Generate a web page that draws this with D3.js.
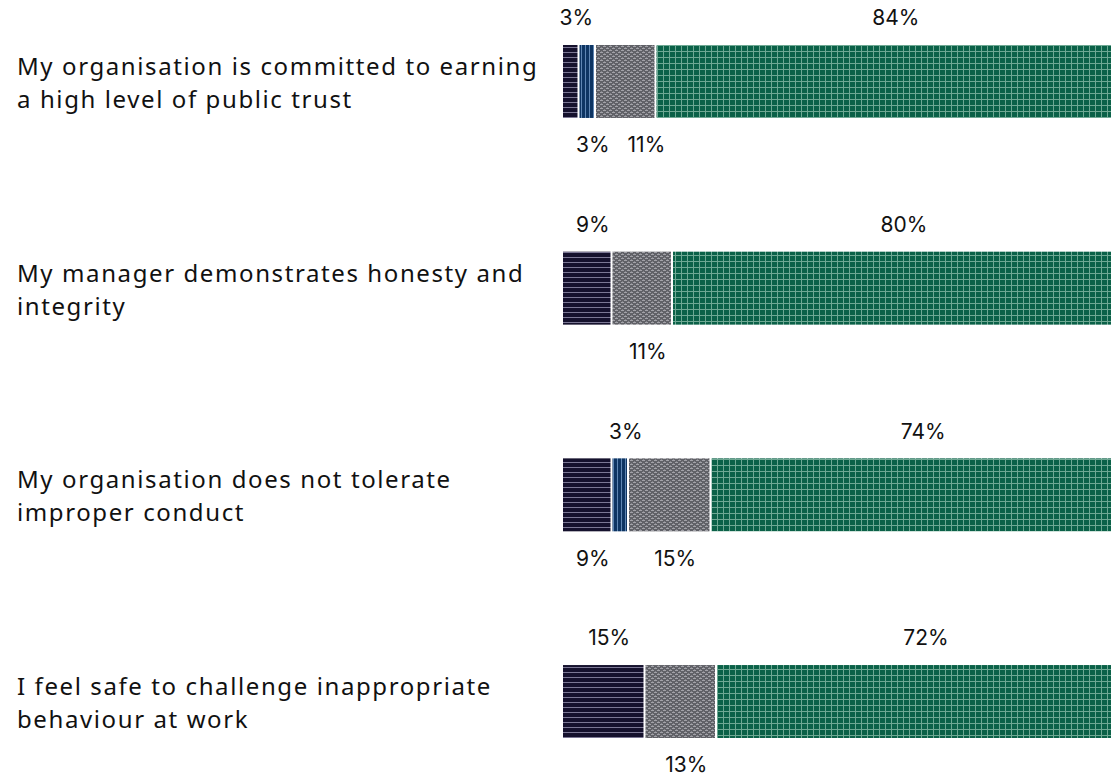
<!DOCTYPE html>
<html>
<head>
<meta charset="utf-8">
<script src="https://cdn.jsdelivr.net/npm/d3@7"></script>
<style>
  html, body { margin: 0; padding: 0; background: #fff; }
  svg { display: block; }
  text { font-family: Inter, "Noto Sans", sans-serif; fill: #111; }
  text.cat { font-family: "Noto Sans", sans-serif; letter-spacing: 1.6px; }
</style>
</head>
<body>
<svg id="chart" width="1111" height="776"></svg>
<script>
// ---- data ----
const categories = [
  ["My organisation is committed to earning", "a high level of public trust"],
  ["My manager demonstrates honesty and", "integrity"],
  ["My organisation does not tolerate", "improper conduct"],
  ["I feel safe to challenge inappropriate", "behaviour at work"]
];
const seriesNames = ["Disagree", "Strongly disagree", "Neutral", "Agree"];
const disagree       = [3, 9, 9, 15];
const stronglyDis    = [3, 0, 3, 0];
const neutral        = [11, 11, 15, 13];
const agree          = [84, 80, 74, 72];
// label side per segment: "t" = above bar, "b" = below bar
const labelSides = [
  ["t", "b", "b", "t"],
  ["t", "b", "b", "t"],
  ["b", "t", "b", "t"],
  ["t", "b", "b", "t"]
];

const series = [disagree, stronglyDis, neutral, agree];
const patterns = ["pNavy", "pBlue", "pGrey", "pGreen"];

const svg = d3.select("#chart");
const defs = svg.append("defs");

// navy: horizontal lines
{
  const p = defs.append("pattern").attr("id", "pNavy").attr("patternUnits", "userSpaceOnUse")
    .attr("width", 6).attr("height", 5);
  p.append("rect").attr("width", 6).attr("height", 5).attr("fill", "#15112d");
  p.append("rect").attr("y", 2).attr("width", 6).attr("height", 1).attr("fill", "#7b7794");
}
// blue: vertical lines
{
  const p = defs.append("pattern").attr("id", "pBlue").attr("patternUnits", "userSpaceOnUse")
    .attr("width", 4).attr("height", 4);
  p.append("rect").attr("width", 4).attr("height", 4).attr("fill", "#0e3563");
  p.append("rect").attr("x", 1).attr("width", 1).attr("height", 4).attr("fill", "#5f86b3");
}
// grey: small brick texture
{
  const p = defs.append("pattern").attr("id", "pGrey").attr("patternUnits", "userSpaceOnUse")
    .attr("width", 6).attr("height", 4);
  p.append("rect").attr("width", 6).attr("height", 4).attr("fill", "#606167");
  p.append("rect").attr("x", 0).attr("y", 0).attr("width", 3).attr("height", 1).attr("fill", "#a2a2a8");
  p.append("rect").attr("x", 3).attr("y", 2).attr("width", 3).attr("height", 1).attr("fill", "#a2a2a8");
  p.append("rect").attr("x", 4).attr("y", 1).attr("width", 1).attr("height", 1).attr("fill", "#85858b");
  p.append("rect").attr("x", 1).attr("y", 3).attr("width", 1).attr("height", 1).attr("fill", "#85858b");
}
// green: grid
{
  const p = defs.append("pattern").attr("id", "pGreen").attr("patternUnits", "userSpaceOnUse")
    .attr("width", 6).attr("height", 6);
  p.append("rect").attr("width", 6).attr("height", 6).attr("fill", "#0b6148");
  p.append("rect").attr("x", 3).attr("width", 1).attr("height", 6).attr("fill", "#6ea893");
  p.append("rect").attr("y", 3).attr("width", 6).attr("height", 1).attr("fill", "#6ea893");
}

const x = d3.scaleLinear().domain([0, 100]).range([563, 1113]);
const y = d3.scaleBand().domain(d3.range(categories.length)).range([45, 738])
  .paddingInner(0.647).paddingOuter(0);

const rows = svg.selectAll("g.row").data(categories).join("g").attr("class", "row");

rows.each(function (cat, i) {
  const g = d3.select(this);
  const y0 = y(i), bh = y.bandwidth();
  // category label
  const t = g.append("text").attr("class", "cat").attr("x", 17).attr("font-size", 24);
  cat.forEach((line, k) => {
    t.append("tspan").attr("x", 17)
      .attr("y", y0 + bh / 2 - 15 + k * 33)
      .attr("dy", "0.35em").text(line);
  });
  // segments
  let cum = 0;
  const segs = series.map((s, j) => {
    const v = s[i];
    const seg = { j, v, x0: cum, x1: cum + v };
    cum += v;
    return seg;
  }).filter(d => d.v > 0);

  g.selectAll("rect.seg").data(segs).join("rect").attr("class", "seg")
    .attr("x", d => x(d.x0))
    .attr("y", y0)
    .attr("width", d => Math.max(0, x(d.x1) - x(d.x0) - 2))
    .attr("height", bh)
    .attr("fill", d => `url(#${patterns[d.j]})`);

  const labels = g.selectAll("text.val").data(segs).join("text").attr("class", "val")
    .attr("font-size", 21)
    .attr("text-anchor", "middle")
    .attr("x", d => {
      const a = x(d.x0), b = Math.min(x(d.x1), 1111);
      d.lx = (a + b) / 2 + (d.j < 3 ? 5 : 12);
      return d.lx;
    })
    .attr("y", d => labelSides[i][d.j] === "t" ? y0 - 27 : y0 + bh + 27)
    .attr("dy", "0.35em")
    .text(d => d.v + "%");

  // simple collision avoidance: push later labels on same side to the right
  ["t", "b"].forEach(side => {
    let prevEnd = -Infinity;
    labels.filter(d => labelSides[i][d.j] === side).each(function (d) {
      const w = this.getComputedTextLength();
      let left = d.lx - w / 2;
      if (left < prevEnd + 18) {
        d.lx += prevEnd + 18 - left;
        left = d.lx - w / 2;
        d3.select(this).attr("x", d.lx);
      }
      prevEnd = left + w;
    });
  });
});
</script>
</body>
</html>
